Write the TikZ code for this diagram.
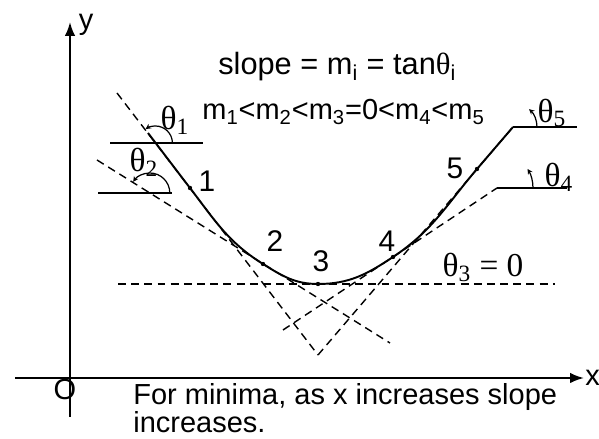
\documentclass[tikz,border=0pt]{standalone}
\usepackage{fontspec}
\setmainfont{Liberation Sans}
\newfontfamily\grkfont{Liberation Serif}
\usetikzlibrary{
    arrows.meta,
    calc
}
\newcommand{\thetasub}[1]{{\grkfont θ\textsubscript{#1}}}

\begin{document}
\begin{tikzpicture}[
    x=0.02cm,
    y=0.02cm,
    >=Latex,
    axisline/.style={line width=1.1pt},
    curveline/.style={line width=1.1pt},
    tangentline/.style={line width=0.8pt, dash pattern=on 4.5pt off 3pt},
    levelline/.style={line width=0.9pt},
    anglearc/.style={line width=0.7pt, -{Stealth[length=3pt,width=3pt]}},
    ptlabel/.style={font=\fontsize{17}{20}\selectfont, inner sep=0pt},
    anglabel/.style={font=\fontsize{19}{21}\selectfont, inner sep=0pt},
    textlabel/.style={font=\fontsize{16.5}{14.8}\selectfont, inner sep=0pt}
]
\useasboundingbox (0,0) rectangle (599,439);

% axes
\coordinate (ybot) at (70,22);
\coordinate (ytip) at (70,417);
\coordinate (xleft) at (15,61);
\coordinate (xtip) at (584,61);
\draw[axisline, ->] (ybot) -- (ytip);
\draw[axisline, ->] (xleft) -- (xtip);
\node[textlabel] (ylab) at (86,414) {y};
\node[textlabel] (olab) at (65,49) {O};
\node[textlabel, anchor=west] (xlab) at (585,61) {x};

% points on the curve
\coordinate (p0) at (148,306);
\coordinate (p1) at (190,251);
\coordinate (p2) at (263,175);
\coordinate (p3) at (318,155);
\coordinate (p4) at (393,182);
\coordinate (p5) at (477,270);
\coordinate (p6) at (513,312);

% tangents
\coordinate (ta1) at (117,346);
\coordinate (ta2) at (318,84);
\coordinate (tb1) at (97,279);
\coordinate (tb2) at (390,96);
\coordinate (tc1) at (283,109);
\coordinate (tc2) at (497,251);
\coordinate (th1) at (118,155);
\coordinate (th2) at (555,155);
\draw[tangentline] (ta1) -- (ta2);
\draw[tangentline] (tb1) -- (tb2);
\draw[tangentline] (tc1) -- (tc2);
\draw[tangentline] (ta2) -- (p6);
\draw[tangentline] (th1) -- (th2);

% the curve
\draw[curveline] (p0) to[out=-52.5, in=127.5] (p1)
    to[out=-52.5, in=148] (p2)
    to[out=-32, in=180] (p3)
    to[out=0, in=213.6] (p4)
    to[out=33.6, in=229.5] (p5)
    to[out=49.5, in=229.5] (p6);
\foreach \p in {p1,p2,p3,p4,p5}
    \fill (\p) circle (2.2);

% horizontal references and angles
\coordinate (c1) at (155.4,296);
\coordinate (c2) at (149.8,246);
\coordinate (c4) at (497,251);
\coordinate (c5) at (513,312);
\draw[levelline] (110,296) -- (203,296);
\draw[levelline] (98,246) -- (172,246);
\draw[levelline] (c4) -- (567,251);
\draw[levelline] (c5) -- (577,312);
\draw[anglearc] ($(c1)+(17,0)$) arc[start angle=0, end angle=125, radius=17];
\draw[anglearc] ($(c2)+(20,0)$) arc[start angle=0, end angle=146, radius=20];
\draw[anglearc] ($(c4)+(36,0)$) arc[start angle=0, end angle=32, radius=36];
\draw[anglearc] ($(c5)+(24,0)$) arc[start angle=0, end angle=48, radius=24];

\node[anglabel] (th1lab) at (175,319) {\thetasub{1}};
\node[anglabel] (th2lab) at (144,277) {\thetasub{2}};
\node[anglabel] (th4lab) at (559,262) {\thetasub{4}};
\node[anglabel] (th5lab) at (552,326) {\thetasub{5}};
\node[anglabel] (th3lab) at (483,172) {{\grkfont θ\textsubscript{3} = 0}};

% point labels
\node[ptlabel] (lab1) at (207,258) {1};
\node[ptlabel] (lab2) at (275,198) {2};
\node[ptlabel] (lab3) at (321,178) {3};
\node[ptlabel] (lab4) at (387,198) {4};
\node[ptlabel] (lab5) at (455,271) {5};

% texts
\node[textlabel, font=\fontsize{17.5}{20}\selectfont, anchor=base west] (slopelab) at (218,364)
    {slope = m\textsubscript{i} = tan{\grkfont θ}\textsubscript{i}};
\node[textlabel, anchor=base west] (orderlab) at (202,319)
    {m\textsubscript{1}<m\textsubscript{2}<m\textsubscript{3}=0<m\textsubscript{4}<m\textsubscript{5}};
\node[textlabel, anchor=base west, align=left] (minlab) at (133,6)
    {For minima, as x increases slope\\increases.};

\end{tikzpicture}
\end{document}
